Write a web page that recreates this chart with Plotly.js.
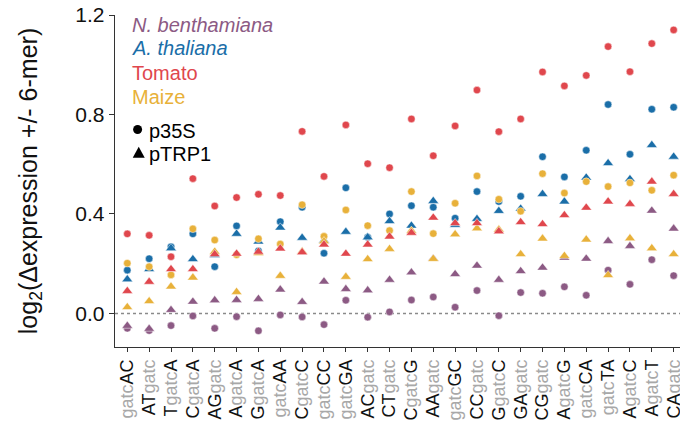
<!DOCTYPE html>
<html>
<head>
<meta charset="utf-8">
<script src="https://cdn.plot.ly/plotly-3.0.1.min.js"></script>
<style>html,body{margin:0;padding:0;background:#fff;}#chart{width:680px;height:425px;}</style>
</head>
<body>
<div id="chart"></div>
<script>
// Categories (6-mer context around the gatc site)
const categories = ["gatcAC","ATgatc","TgatcA","CgatcA","AGgatc","AgatcA","GgatcA","gatcAA","CgatcC","gatcCC",
  "gatcGA","ACgatc","CTgatc","CgatcG","AAgatc","gatcGC","CCgatc","GgatcC","GAgatc","CGgatc",
  "AgatcG","gatcCA","gatcTA","AgatcC","AgatcT","CAgatc"];

// N. benthamiana
const nbenth_p35S  = [-0.060,-0.069,-0.049,-0.010,-0.060,-0.013,-0.070,-0.006,-0.014,-0.045,
  0.053,-0.015,0.006,0.054,0.066,0.025,0.092,-0.009,0.084,0.081,0.107,0.073,0.174,0.117,0.216,0.152];
const nbenth_pTRP1 = [-0.050,-0.062,0.014,0.047,0.053,0.054,0.058,0.096,0.046,0.128,
  0.098,0.093,0.135,0.165,0.220,0.158,0.192,0.135,0.170,0.184,0.224,0.220,0.291,0.271,0.413,0.341];
// A. thaliana
const athal_p35S   = [0.174,0.220,0.268,0.320,0.188,0.352,0.251,0.369,0.427,0.242,
  0.505,0.306,0.400,0.433,0.427,0.383,0.490,0.450,0.471,0.630,0.549,0.656,0.840,0.640,0.821,0.829];
const athal_pTRP1  = [0.137,0.178,0.262,0.218,0.234,0.320,0.289,0.345,0.304,0.293,
  0.328,0.306,0.371,0.353,0.452,0.356,0.380,0.412,0.421,0.480,0.450,0.546,0.604,0.540,0.677,0.630];
// Tomato
const tomato_p35S  = [0.320,0.314,0.228,0.542,0.432,0.466,0.479,0.474,0.732,0.551,
  0.758,0.602,0.586,0.782,0.634,0.754,0.898,0.731,0.782,0.971,0.915,0.957,1.073,0.972,1.085,1.140];
const tomato_pTRP1 = [0.090,0.127,0.178,0.178,0.238,0.240,0.248,0.261,0.246,0.277,
  0.240,0.277,0.309,0.324,0.385,0.363,0.363,0.330,0.367,0.359,0.395,0.425,0.450,0.440,0.530,0.480];
// Maize
const maize_p35S   = [0.202,0.188,0.155,0.340,0.295,0.236,0.300,0.279,0.437,0.310,
  0.416,0.353,0.333,0.490,0.321,0.443,0.553,0.459,0.411,0.562,0.484,0.530,0.510,0.525,0.495,0.556];
const maize_pTRP1  = [0.025,0.049,0.108,0.144,0.248,0.086,0.242,0.151,0.249,0.290,
  0.147,0.218,0.259,0.332,0.219,0.318,0.342,0.337,0.238,0.301,0.231,0.297,0.154,0.302,0.262,0.238];

const yTickVals = [0, 0.4, 0.8, 1.2];
const yTickText = ["0.0", "0.4", "0.8", "1.2"];

const speciesNames = ["<i>N. benthamiana</i>", "<i>A. thaliana</i>", "Tomato", "Maize"];
const promoterNames = ["p35S", "pTRP1"];

const COL = {nb: "#8c5a84", at: "#1a6ea8", tom: "#e0474d", mz: "#e8b13a"};
const GRAY = "#a8a8a8";
const FONT = "Liberation Sans, Arial, Helvetica, sans-serif";

const xIdx = categories.map((_, i) => i);
const tickText = categories.map(c => c.replace("gatc", '<span style="color:' + GRAY + '">gatc</span>'));

function tr(y, color, symbol) {
  return {
    x: xIdx, y: y, type: "scatter", mode: "markers", cliponaxis: false, hoverinfo: "skip",
    marker: {color: color, symbol: symbol, size: symbol === "circle" ? 7.5 : 9.5,
             line: {color: "rgba(255,255,255,0.8)", width: 0.6}}
  };
}

const data = [
  tr(nbenth_p35S, COL.nb, "circle"), tr(nbenth_pTRP1, COL.nb, "triangle-up"),
  tr(athal_p35S, COL.at, "circle"), tr(athal_pTRP1, COL.at, "triangle-up"),
  tr(maize_p35S, COL.mz, "circle"), tr(maize_pTRP1, COL.mz, "triangle-up"),
  tr(tomato_p35S, COL.tom, "circle"), tr(tomato_pTRP1, COL.tom, "triangle-up")
];

const legColors = [COL.nb, COL.at, COL.tom, COL.mz];
const legY = [0.970, 0.900, 0.826, 0.754];
const annotations = speciesNames.map((t, i) => ({
  text: t, xref: "paper", yref: "paper", x: 0.027, y: legY[i], xanchor: "left", yanchor: "middle",
  showarrow: false, font: {family: FONT, size: 20, color: legColors[i]}
}));
const promY = [0.652, 0.582];
promoterNames.forEach((t, i) => annotations.push({
  text: t, xref: "paper", yref: "paper", x: 0.057, y: promY[i], xanchor: "left", yanchor: "middle",
  showarrow: false, font: {family: FONT, size: 20, color: "#000"}
}));

const shapes = [
  {type: "line", xref: "paper", x0: 0, x1: 1, yref: "y", y0: 0, y1: 0, layer: "below",
   line: {color: "#8a8a8a", width: 1.5, dash: "dot"}},
  {type: "circle", xref: "paper", yref: "paper", xsizemode: "pixel", ysizemode: "pixel",
   xanchor: 0.040, yanchor: promY[0] + 0.003, x0: -4.5, x1: 4.5, y0: -4.5, y1: 4.5,
   fillcolor: "#000", line: {width: 0}},
  {type: "path", xref: "paper", yref: "paper", xsizemode: "pixel", ysizemode: "pixel",
   xanchor: 0.042, yanchor: promY[1] + 0.003, path: "M-6,-5L6,-5L0,6Z",
   fillcolor: "#000", line: {width: 0}}
];

const layout = {
  width: 680, height: 425,
  margin: {l: 115, r: 0, t: 15, b: 78, pad: 0},
  paper_bgcolor: "#fff", plot_bgcolor: "#fff",
  showlegend: false,
  font: {family: FONT, color: "#111"},
  xaxis: {
    range: [-0.563, 25.29], tickvals: xIdx, ticktext: tickText, tickangle: -90,
    ticks: "outside", ticklen: 4, tickwidth: 1, tickcolor: "#333", ticklabeloverflow: "allow",
    showline: true, linecolor: "#333", linewidth: 1.3, showgrid: false, zeroline: false,
    tickfont: {family: FONT, size: 18, color: "#111"}
  },
  yaxis: {
    range: [-0.135, 1.2], tickvals: yTickVals, ticktext: yTickText,
    ticks: "outside", ticklen: 5, tickwidth: 1, tickcolor: "#333",
    showline: true, linecolor: "#333", linewidth: 1.3, showgrid: false, zeroline: false,
    tickfont: {family: FONT, size: 21, color: "#111"},
    title: {text: "log<sub>2</sub>(Δexpression +/- 6-mer)", font: {family: FONT, size: 25, color: "#111"}, standoff: 30}
  },
  annotations: annotations,
  shapes: shapes
};

Plotly.newPlot("chart", data, layout, {displayModeBar: false, staticPlot: true});
</script>
</body>
</html>
